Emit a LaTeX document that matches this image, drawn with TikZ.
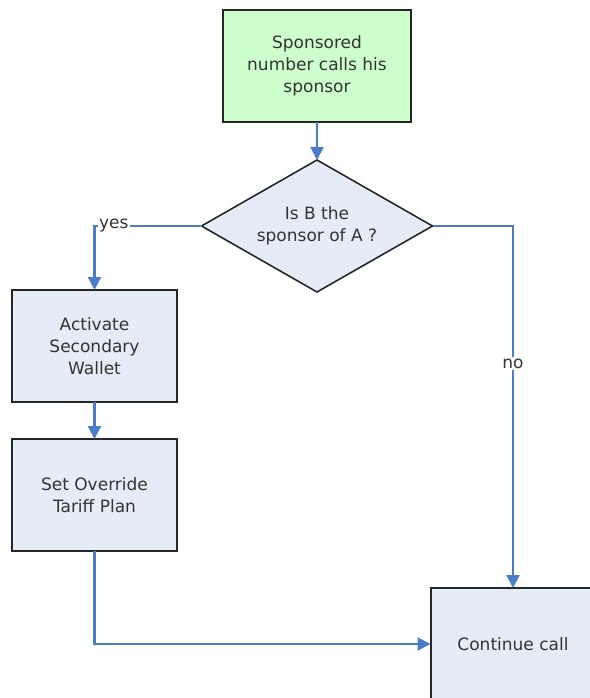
\documentclass[tikz,border=0pt]{standalone}
\usepackage{fontspec}
\setmainfont{DejaVu Sans}
\usetikzlibrary{arrows.meta,shapes.geometric}
\definecolor{boxblue}{HTML}{E6ECF7}
\definecolor{boxgreen}{HTML}{CCFFCC}
\definecolor{flowblue}{HTML}{4A7CC8}
\definecolor{txtgray}{HTML}{333333}
\tikzset{
  proc/.style={rectangle,draw=black!85,line width=2pt,fill=boxblue,
    minimum width=165pt,minimum height=112pt,align=center,outer sep=0pt,
    text=txtgray,font=\fontsize{17}{22}\selectfont},   % process box
  startbox/.style={proc,fill=boxgreen,minimum width=188pt},
  decide/.style={diamond,aspect=1.75,draw=black!85,line width=1.6pt,fill=boxblue,
    minimum width=231pt,minimum height=132pt,inner sep=0pt,align=center,
    outer sep=0pt,text=txtgray,font=\fontsize{17}{22}\selectfont},
  flow/.style={-{Triangle[length=13pt,width=13pt]},flowblue,line width=2.2pt},
  lbl/.style={fill=white,inner sep=1.5pt,text=txtgray,font=\fontsize{17}{20}\selectfont},
}

\begin{document}
\begin{tikzpicture}[x=1pt,y=-1pt]
  \useasboundingbox (0,0) rectangle (589,698);
  % boxes
  \node[startbox] (call) at (317,66) {Sponsored\\number calls his\\sponsor};
  \node[decide] (isb) at (317,226) {Is B the\\sponsor of A ?};
  \node[proc] (wallet) at (94.5,346) {Activate\\Secondary\\Wallet};
  \node[proc] (tariff) at (94.5,495) {Set Override\\Tariff Plan};
  \node[proc] (cont) at (513,644) {Continue call};
  % connectors
  \draw[flow] (call) -- (isb);
  \draw[flow] (isb.west) -| node[lbl,pos=0.41] {yes} (wallet.north);
  \draw[flow] (isb.east) -| node[lbl,pos=0.69] {no} (cont.north);
  \draw[flow] (wallet) -- (tariff);
  \draw[flow] (tariff.south) |- (cont.west);
\end{tikzpicture}
\end{document}
